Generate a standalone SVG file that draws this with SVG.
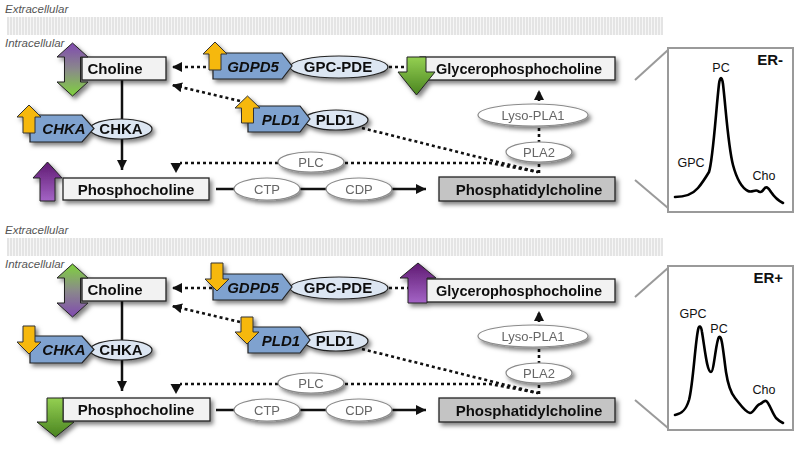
<svg xmlns="http://www.w3.org/2000/svg" width="800" height="451" viewBox="0 0 800 451">
<defs>
<style>
text{font-family:"Liberation Sans",Arial,sans-serif}
.lbl{font-size:11.5px;font-style:italic;fill:#555}
.box{fill:#f2f2f2;stroke:#222;stroke-width:1.3}
.pcbox{fill:#c4c4c4;stroke:#222;stroke-width:1.3}
.gene{fill:#7fa2cf;stroke:#222;stroke-width:1.2}
.prot{fill:#dce6f2;stroke:#222;stroke-width:1.2}
.enz{fill:#fff;stroke:#8a8a8a;stroke-width:1.2}
.yel{fill:#f6b80f;stroke:#333;stroke-width:1}
.arr{stroke:#222;stroke-width:1}
.t{font-size:15px;font-weight:bold;fill:#111;text-anchor:middle}
.t2{font-size:14.5px;font-weight:bold;fill:#111;text-anchor:middle}
.ti{font-style:italic}
.te{font-size:13px;fill:#666;text-anchor:middle}
.dot{stroke:#111;stroke-width:2.6;stroke-dasharray:3 3;fill:none}
.sol{stroke:#111;stroke-width:2.5;fill:none}
.frame{fill:#fff;stroke:#9a9a9a;stroke-width:2}
.zl{stroke:#9a9a9a;stroke-width:2}
.spec{fill:none;stroke:#000;stroke-width:2.6;stroke-linejoin:round;stroke-linecap:round}
.sl{font-size:12.5px;fill:#111;text-anchor:middle}
.er{font-size:15px;font-weight:bold;fill:#111;text-anchor:end}
.sh{filter:url(#sh)}
</style>
<filter id="sh" x="-20%" y="-30%" width="150%" height="180%">
<feDropShadow dx="2.5" dy="3" stdDeviation="2.2" flood-color="#000" flood-opacity="0.5"/>
</filter>
<pattern id="mem" width="3" height="18" patternUnits="userSpaceOnUse">
<rect width="3" height="18" fill="#e4e4e4"/>
<rect width="1" height="18" fill="#f6f6f6"/>
</pattern>
<linearGradient id="gPG" x1="0" y1="0" x2="0" y2="1">
<stop offset="0" stop-color="#8049b0"/><stop offset="0.5" stop-color="#8a8a8a"/><stop offset="1" stop-color="#7fd23c"/>
</linearGradient>
<linearGradient id="gGP" x1="0" y1="0" x2="0" y2="1">
<stop offset="0" stop-color="#7fd23c"/><stop offset="0.5" stop-color="#8a8a8a"/><stop offset="1" stop-color="#8049b0"/>
</linearGradient>
<linearGradient id="gPur" x1="0" y1="0" x2="0" y2="1">
<stop offset="0" stop-color="#5f1a72"/><stop offset="1" stop-color="#a464c6"/>
</linearGradient>
<linearGradient id="gGrn" x1="0" y1="0" x2="0" y2="1">
<stop offset="0" stop-color="#94d052"/><stop offset="1" stop-color="#4a8420"/>
</linearGradient>
<marker id="ah" markerUnits="userSpaceOnUse" markerWidth="11" markerHeight="10" refX="10" refY="5" orient="auto">
<path d="M0,0 L10,5 L0,10 Z" fill="#111"/>
</marker>
</defs>
<rect width="800" height="451" fill="#fff"/>

<!-- ===== TOP PANEL ===== -->
<g id="membrane-top">
<text class="lbl" x="5" y="13">Extracellular</text>
<rect x="7" y="17" width="656" height="18" fill="url(#mem)"/>
<text class="lbl" x="5" y="47">Intracellular</text>
</g>

<g id="connectors-top">
<path class="sol" d="M122,80 L122,170" marker-end="url(#ah)"/>
<path class="sol" d="M216,189 L426,189" marker-end="url(#ah)"/>
<path class="dot" d="M212,67 L172,67" marker-end="url(#ah)"/>
<path class="dot" d="M240,101 L172,85" marker-end="url(#ah)"/>
<path class="dot" d="M389,67 L410,67"/>
<path class="dot" d="M278,163 L180,163"/>
<path d="M170.5,163 L181.5,163 L176,173 Z" fill="#111"/>
<path class="dot" d="M345,163 L490,163 L538,172"/>
<path class="dot" d="M362,128 L538,172"/>
<path class="dot" d="M539,173 L539,90" marker-end="url(#ah)"/>
</g>

<g id="choline-top" class="sh">
<rect class="box" x="82" y="57" width="84" height="23"/>
<path class="arr" fill="url(#gPG)" d="M72.5,43 L88,57 L80.5,57 L80.5,82 L88,82 L72.5,96 L57,82 L64.5,82 L64.5,57 L57,57 Z"/>
<text class="t" x="115" y="74">Choline</text>
</g>

<g id="chka-top" class="sh">
<ellipse class="prot" cx="121" cy="129" rx="31" ry="10"/>
<path class="gene" d="M30,115 L82,115 L94,128.5 L82,142 L30,142 Z"/>
<path class="yel" d="M29,105 L41,117 L35,117 L35,133 L23,133 L23,117 L17,117 Z"/>
<text class="t ti" x="64" y="134">CHKA</text>
<text class="t" x="121" y="134">CHKA</text>
</g>

<g id="phosphocholine-top" class="sh">
<rect class="box" x="63" y="178" width="146" height="22"/>
<path class="arr" fill="url(#gPur)" d="M47.5,162 L62,178 L55,178 L55,201 L40,201 L40,178 L33,178 Z"/>
<text class="t" x="136" y="195">Phosphocholine</text>
</g>

<g id="gdpd5-top" class="sh">
<ellipse class="prot" cx="339" cy="67" rx="49" ry="11"/>
<path class="gene" d="M213,53 L282,53 L292,66 L282,79 L213,79 Z"/>
<path class="yel" d="M215,42 L227,54 L221,54 L221,70 L209,70 L209,54 L203,54 Z"/>
<text class="t ti" x="253" y="72">GDPD5</text>
<text class="t" x="338" y="72">GPC-PDE</text>
</g>

<g id="pld1-top" class="sh">
<ellipse class="prot" cx="336" cy="120" rx="32" ry="10"/>
<path class="gene" d="M248,106 L300,106 L310,119 L300,132 L248,132 Z"/>
<path class="yel" d="M247.5,96 L260,108 L253.5,108 L253.5,123 L241.5,123 L241.5,108 L235,108 Z"/>
<text class="t ti" x="281" y="125">PLD1</text>
<text class="t" x="335" y="125">PLD1</text>
</g>

<g id="gpc-top" class="sh">
<rect class="box" x="420" y="57" width="195" height="23"/>
<path class="arr" fill="url(#gGrn)" d="M407,57 L426,57 L426,72 L435,72 L416.5,95 L398,72 L407,72 Z"/>
<text class="t2" x="519" y="74">Glycerophosphocholine</text>
</g>

<g id="lysopla1-top" class="sh">
<ellipse class="enz" cx="533" cy="115" rx="55" ry="11"/>
<text class="te" x="533" y="120">Lyso-PLA1</text>
</g>
<g id="pla2-top" class="sh">
<ellipse class="enz" cx="539" cy="152" rx="33" ry="10"/>
<text class="te" x="539" y="157">PLA2</text>
</g>
<g id="plc-top" class="sh">
<ellipse class="enz" cx="311" cy="162" rx="33" ry="10"/>
<text class="te" x="311" y="167">PLC</text>
</g>
<g id="ctp-top" class="sh">
<ellipse class="enz" cx="267" cy="189" rx="33" ry="11"/>
<text class="te" x="267" y="194">CTP</text>
</g>
<g id="cdp-top" class="sh">
<ellipse class="enz" cx="359" cy="189" rx="33" ry="11"/>
<text class="te" x="359" y="194">CDP</text>
</g>
<g id="pc-top" class="sh">
<rect class="pcbox" x="439" y="177" width="176" height="24"/>
<text class="t" x="529" y="195">Phosphatidylcholine</text>
</g>

<g id="spectrum-top">
<line class="zl" x1="635" y1="80" x2="668" y2="50"/>
<line class="zl" x1="635" y1="180" x2="668" y2="208"/>
<rect class="frame" x="668" y="48" width="125" height="164"/>
<text class="er" x="783" y="65">ER-</text>
<text class="sl" x="721" y="72">PC</text>
<text class="sl" x="691" y="167">GPC</text>
<text class="sl" x="764" y="180">Cho</text>
<path class="spec" d="M675,197 C685,197 692,195 698,188 C703,182 706,177 709,172 C713,160 716,110 719,84 C720,76 722,76 723,84 C726,110 728,145 733,165 C737,180 742,188 748,191 C752,193 755,189 758,191 C760,193 762,192 764,189 C766,186 768,187 771,192 C775,198 779,201 783,203"/>
</g>

<!-- ===== BOTTOM PANEL ===== -->
<g id="membrane-bottom" transform="translate(0,221)">
<text class="lbl" x="5" y="13">Extracellular</text>
<rect x="7" y="17" width="656" height="18" fill="url(#mem)"/>
<text class="lbl" x="5" y="47">Intracellular</text>
</g>

<g id="connectors-bottom" transform="translate(0,221)">
<path class="sol" d="M122,80 L122,170" marker-end="url(#ah)"/>
<path class="sol" d="M216,189 L426,189" marker-end="url(#ah)"/>
<path class="dot" d="M212,67 L172,67" marker-end="url(#ah)"/>
<path class="dot" d="M240,101 L172,85" marker-end="url(#ah)"/>
<path class="dot" d="M389,67 L410,67"/>
<path class="dot" d="M278,163 L180,163"/>
<path d="M170.5,163 L181.5,163 L176,173 Z" fill="#111"/>
<path class="dot" d="M345,163 L490,163 L538,172"/>
<path class="dot" d="M362,128 L538,172"/>
<path class="dot" d="M539,173 L539,90" marker-end="url(#ah)"/>
</g>

<g id="choline-bottom" class="sh" transform="translate(0,221)">
<rect class="box" x="82" y="57" width="84" height="23"/>
<path class="arr" fill="url(#gGP)" d="M72.5,43 L88,57 L80.5,57 L80.5,82 L88,82 L72.5,96 L57,82 L64.5,82 L64.5,57 L57,57 Z"/>
<text class="t" x="115" y="74">Choline</text>
</g>

<g id="chka-bottom" class="sh" transform="translate(0,221)">
<ellipse class="prot" cx="121" cy="129" rx="31" ry="10"/>
<path class="gene" d="M30,115 L82,115 L94,128.5 L82,142 L30,142 Z"/>
<path class="yel" d="M23,105 L35,105 L35,121 L41,121 L29,133 L17,121 L23,121 Z"/>
<text class="t ti" x="64" y="134">CHKA</text>
<text class="t" x="121" y="134">CHKA</text>
</g>

<g id="phosphocholine-bottom" class="sh" transform="translate(0,221)">
<rect class="box" x="63" y="177" width="147" height="23"/>
<path class="arr" fill="url(#gGrn)" d="M47,177 L63,177 L63,201 L74,201 L55.5,216 L37,201 L47,201 Z"/>
<text class="t" x="136" y="194">Phosphocholine</text>
</g>

<g id="gdpd5-bottom" class="sh" transform="translate(0,221)">
<ellipse class="prot" cx="339" cy="67" rx="49" ry="11"/>
<path class="gene" d="M213,53 L282,53 L292,66 L282,79 L213,79 Z"/>
<path class="yel" d="M211,42 L223,42 L223,58 L229,58 L217,70 L205,58 L211,58 Z"/>
<text class="t ti" x="253" y="72">GDPD5</text>
<text class="t" x="338" y="72">GPC-PDE</text>
</g>

<g id="pld1-bottom" class="sh" transform="translate(0,221)">
<ellipse class="prot" cx="336" cy="120" rx="32" ry="10"/>
<path class="gene" d="M248,106 L300,106 L310,119 L300,132 L248,132 Z"/>
<path class="yel" d="M241,96 L253,96 L253,111 L259,111 L247,123 L235,111 L241,111 Z"/>
<text class="t ti" x="281" y="125">PLD1</text>
<text class="t" x="335" y="125">PLD1</text>
</g>

<g id="gpc-bottom" class="sh" transform="translate(0,221)">
<rect class="box" x="420" y="58" width="195" height="23"/>
<path class="arr" fill="url(#gPur)" d="M418,42 L436,57 L427,57 L427,82 L408,82 L408,57 L400,57 Z"/>
<text class="t2" x="519" y="75">Glycerophosphocholine</text>
</g>

<g id="lysopla1-bottom" class="sh" transform="translate(0,221)">
<ellipse class="enz" cx="533" cy="115" rx="55" ry="11"/>
<text class="te" x="533" y="120">Lyso-PLA1</text>
</g>
<g id="pla2-bottom" class="sh" transform="translate(0,221)">
<ellipse class="enz" cx="539" cy="152" rx="33" ry="10"/>
<text class="te" x="539" y="157">PLA2</text>
</g>
<g id="plc-bottom" class="sh" transform="translate(0,221)">
<ellipse class="enz" cx="311" cy="162" rx="33" ry="10"/>
<text class="te" x="311" y="167">PLC</text>
</g>
<g id="ctp-bottom" class="sh" transform="translate(0,221)">
<ellipse class="enz" cx="267" cy="189" rx="33" ry="11"/>
<text class="te" x="267" y="194">CTP</text>
</g>
<g id="cdp-bottom" class="sh" transform="translate(0,221)">
<ellipse class="enz" cx="359" cy="189" rx="33" ry="11"/>
<text class="te" x="359" y="194">CDP</text>
</g>
<g id="pc-bottom" class="sh" transform="translate(0,221)">
<rect class="pcbox" x="439" y="177" width="176" height="24"/>
<text class="t" x="529" y="195">Phosphatidylcholine</text>
</g>

<g id="spectrum-bottom">
<line class="zl" x1="635" y1="297" x2="668" y2="268"/>
<line class="zl" x1="635" y1="400" x2="668" y2="428"/>
<rect class="frame" x="668" y="266" width="125" height="164"/>
<text class="er" x="783" y="283">ER+</text>
<text class="sl" x="693" y="318">GPC</text>
<text class="sl" x="719" y="333">PC</text>
<text class="sl" x="764" y="394">Cho</text>
<path class="spec" d="M675,415 C682,414 686,410 689,400 C693,385 695,345 698,330 C699,325 701,325 702,332 C705,350 707,372 711,372 C714,372 716,340 719,337 C722,335 723,350 726,372 C728,385 730,392 735,398 C740,404 745,412 750,413 C754,413 756,405 760,404 C763,403 764,400 766,401 C769,402 772,413 776,418 C779,421 781,422 783,423"/>
</g>
</svg>
